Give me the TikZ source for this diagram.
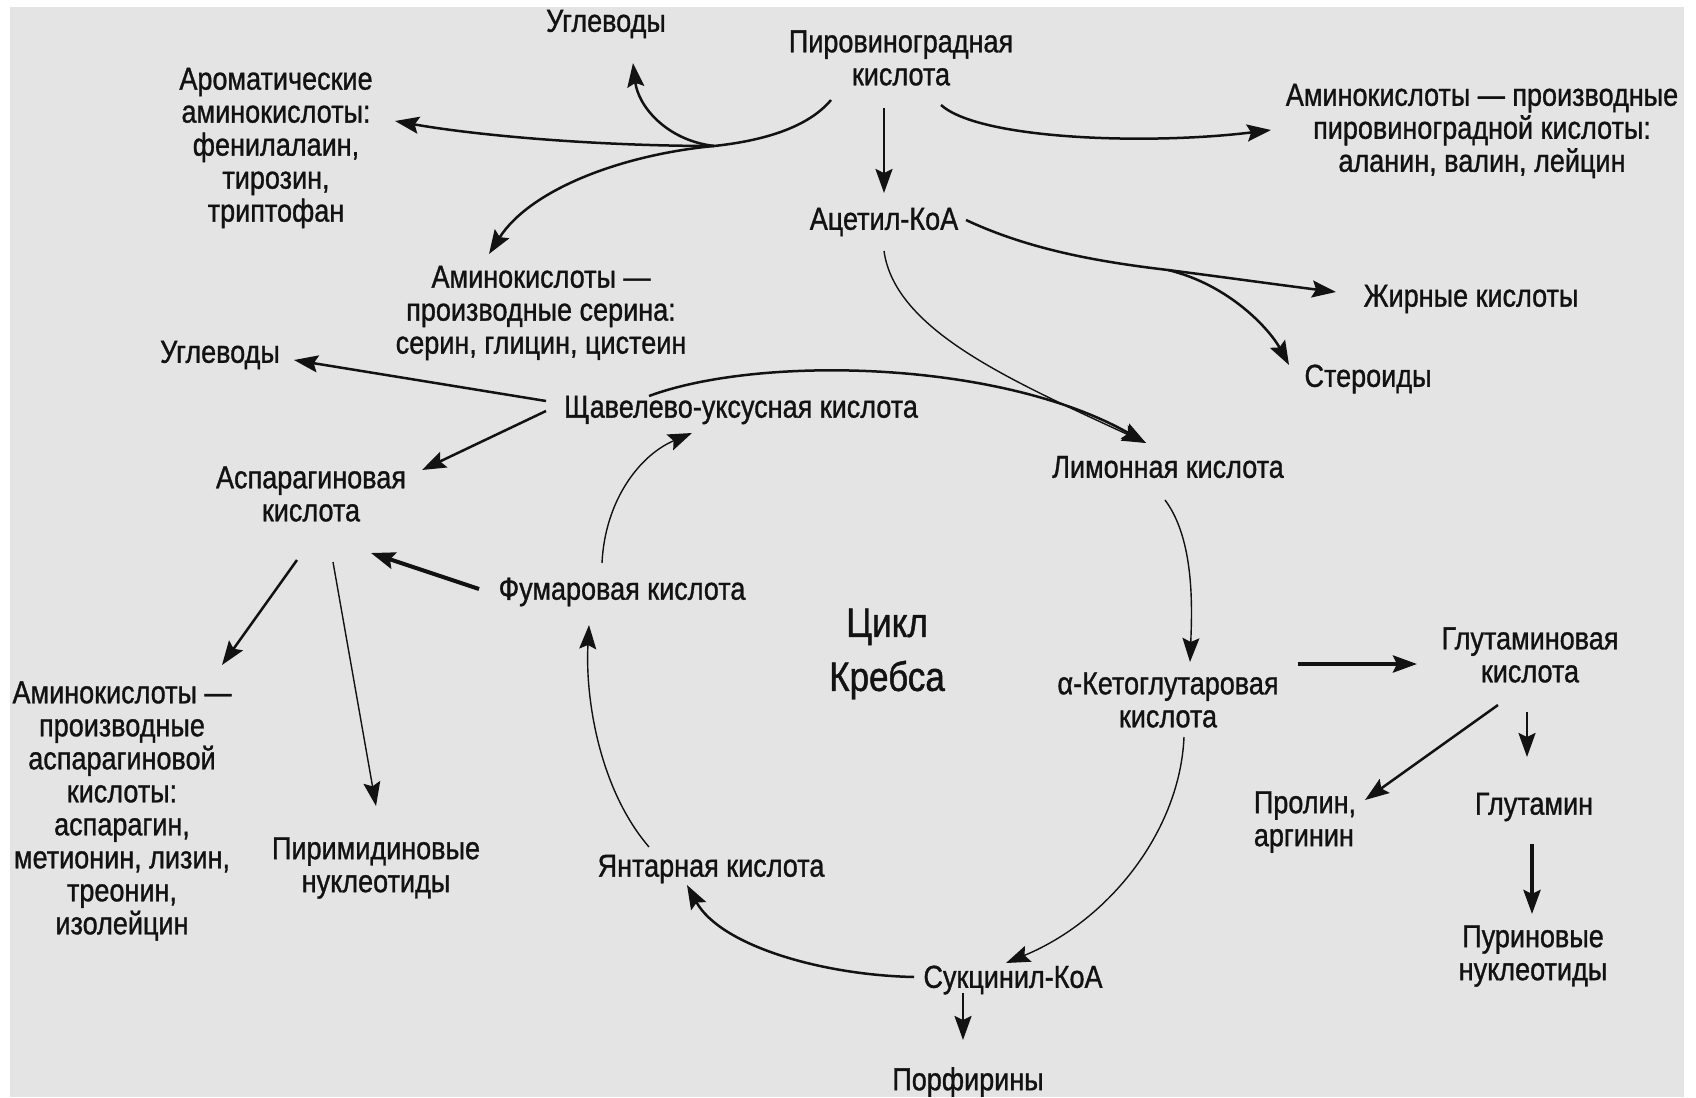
\documentclass[tikz,border=0pt]{standalone}
\usepackage{fontspec}
\setmainfont[FakeStretch=0.85,FakeBold=1.0]{Liberation Sans}
\usetikzlibrary{arrows.meta}
\definecolor{paper}{RGB}{228,228,228}
\definecolor{ink}{RGB}{18,18,18}
\begin{document}
\begin{tikzpicture}[x=0.5pt,y=-0.5pt,
  lbl/.style={text=ink, align=center, inner sep=0pt, font=\fontsize{15.9}{16.5}\selectfont},
  big/.style={text=ink, align=center, inner sep=0pt, font=\fontsize{20.6}{27}\selectfont},
  ln/.style={draw=ink, line width=1.25pt, -{Stealth[length=12pt,width=8.5pt,inset=2pt]}},
  thinln/.style={ln, line width=0.7pt},
  thickln/.style={ln, line width=2pt},
  plain/.style={draw=ink, line width=1.25pt}]
\useasboundingbox (0,0) rectangle (1696,1097);
\fill[white] (0,0) rectangle (1696,1097);
\fill[paper] (10,7) rectangle (1684,1097);

% nodes
\node[lbl] (ugtop) at (606,24) {Углеводы};
\node[lbl] (pyr) at (901,58) {Пировиноградная\\кислота};
\node[lbl] (arom) at (276,148) {Ароматические\\аминокислоты:\\фенилалаин,\\тирозин,\\триптофан};
\node[lbl] (aapyr) at (1482,131) {Аминокислоты — производные\\пировиноградной кислоты:\\аланин, валин, лейцин};
\node[lbl] (acoa) at (884,222) {Ацетил-КоА};
\node[lbl] (aaser) at (541,313) {Аминокислоты —\\производные серина:\\серин, глицин, цистеин};
\node[lbl] (fat) at (1471,299) {Жирные кислоты};
\node[lbl] (ster) at (1368,379) {Стероиды};
\node[lbl] (ugleft) at (220,355) {Углеводы};
\node[lbl] (oxa) at (741,410) {Щавелево-уксусная кислота};
\node[lbl] (cit) at (1168,467) {Лимонная кислота};
\node[lbl] (asp) at (311,494) {Аспарагиновая\\кислота};
\node[lbl] (fum) at (622,592) {Фумаровая кислота};
\node[big] (krebs) at (887,654) {Цикл\\Кребса};
\node[lbl] (akg) at (1168,700) {α-Кетоглутаровая\\кислота};
\node[lbl] (glu) at (1530,655) {Глутаминовая\\кислота};
\node[lbl] (aaasp) at (122,811) {Аминокислоты —\\производные\\аспарагиновой\\кислоты:\\аспарагин,\\метионин, лизин,\\треонин,\\изолейцин};
\node[lbl] (pyrim) at (376,868) {Пиримидиновые\\нуклеотиды};
\node[lbl, align=left] (pro) at (1305,822) {Пролин,\\аргинин};
\node[lbl] (gln) at (1534,807) {Глутамин};
\node[lbl] (succ) at (711,869) {Янтарная кислота};
\node[lbl] (pur) at (1533,956) {Пуриновые\\нуклеотиды};
\node[lbl] (scoa) at (1013,980) {Сукцинил-КоА};
\node[lbl] (porph) at (968,1082) {Порфирины};

% helper coordinates (free ends near nodes)
\coordinate (p1) at (831,100);
\coordinate (j1) at (714,146);
\coordinate (ugtopT) at (633,63);
\coordinate (aromT) at (395,121);
\coordinate (aaserT) at (489,254);
\coordinate (p2) at (941,105);
\coordinate (aapyrT) at (1271,130);
\coordinate (acoaA) at (966,220);
\coordinate (j2) at (1168,270);
\coordinate (fatT) at (1336,292);
\coordinate (sterT) at (1289,365);
\coordinate (acoaB) at (884,251);
\coordinate (citT) at (1146,443);
\coordinate (oxaA) at (649,396);
\coordinate (oxaB) at (546,401);
\coordinate (oxaC) at (546,411);
\coordinate (ugleftT) at (294,360);
\coordinate (aspT) at (422,470);
\coordinate (fumA) at (479,589);
\coordinate (aspT2) at (371,553);
\coordinate (fumB) at (602,563);
\coordinate (oxaT) at (692,433);
\coordinate (succA) at (649,847);
\coordinate (fumT) at (589,625);
\coordinate (scoaA) at (914,977);
\coordinate (succT) at (687,885);
\coordinate (akgA) at (1184,737);
\coordinate (scoaT) at (1006,963);
\coordinate (citA) at (1165,500);
\coordinate (akgT) at (1190,662);
\coordinate (akgB) at (1298,664);
\coordinate (gluT) at (1417,664);
\coordinate (gluA) at (1498,705);
\coordinate (proT) at (1365,800);
\coordinate (gluB) at (1527,712);
\coordinate (glnT) at (1527,757);
\coordinate (glnA) at (1532,844);
\coordinate (purT) at (1532,914);
\coordinate (scoaB) at (963,993);
\coordinate (porphT) at (963,1040);
\coordinate (aspA) at (297,560);
\coordinate (aaaspT) at (222,665);
\coordinate (aspB) at (333,562);
\coordinate (pyrimT) at (376,806);
\coordinate (pyrA) at (884,108);
\coordinate (acoaT) at (884,193);

% connectors
\draw[plain] (p1) .. controls (810,125) and (770,140) .. (j1);
\draw[ln] (j1) .. controls (665,140) and (638,105) .. (ugtopT);
\draw[ln] (j1) .. controls (600,146) and (480,136) .. (aromT);
\draw[ln] (j1) .. controls (620,155) and (530,190) .. (aaserT);
\draw[ln] (p2) .. controls (980,140) and (1150,145) .. (aapyrT);
\draw[ln] (pyrA) -- (acoaT);
\draw[plain] (acoaA) .. controls (1030,250) and (1100,262) .. (j2);
\draw[ln] (j2) .. controls (1230,278) and (1280,285) .. (fatT);
\draw[ln] (j2) .. controls (1230,285) and (1270,330) .. (sterT);
\draw[thinln] (acoaB) .. controls (895,330) and (1010,380) .. (citT);
\draw[ln] (oxaA) .. controls (760,355) and (1000,360) .. (citT);
\draw[ln] (oxaB) -- (ugleftT);
\draw[ln] (oxaC) -- (aspT);
\draw[thickln] (fumA) -- (aspT2);
\draw[thinln] (fumB) .. controls (605,500) and (640,455) .. (oxaT);
\draw[thinln] (succA) .. controls (600,790) and (585,700) .. (fumT);
\draw[ln] (scoaA) .. controls (820,975) and (720,945) .. (succT);
\draw[thinln] (akgA) .. controls (1180,830) and (1110,920) .. (scoaT);
\draw[thinln] (citA) .. controls (1195,540) and (1192,610) .. (akgT);
\draw[thickln] (akgB) -- (gluT);
\draw[ln] (gluA) -- (proT);
\draw[ln] (gluB) -- (glnT);
\draw[thickln] (glnA) -- (purT);
\draw[ln] (scoaB) -- (porphT);
\draw[ln] (aspA) -- (aaaspT);
\draw[thinln] (aspB) -- (pyrimT);
\end{tikzpicture}
\end{document}
